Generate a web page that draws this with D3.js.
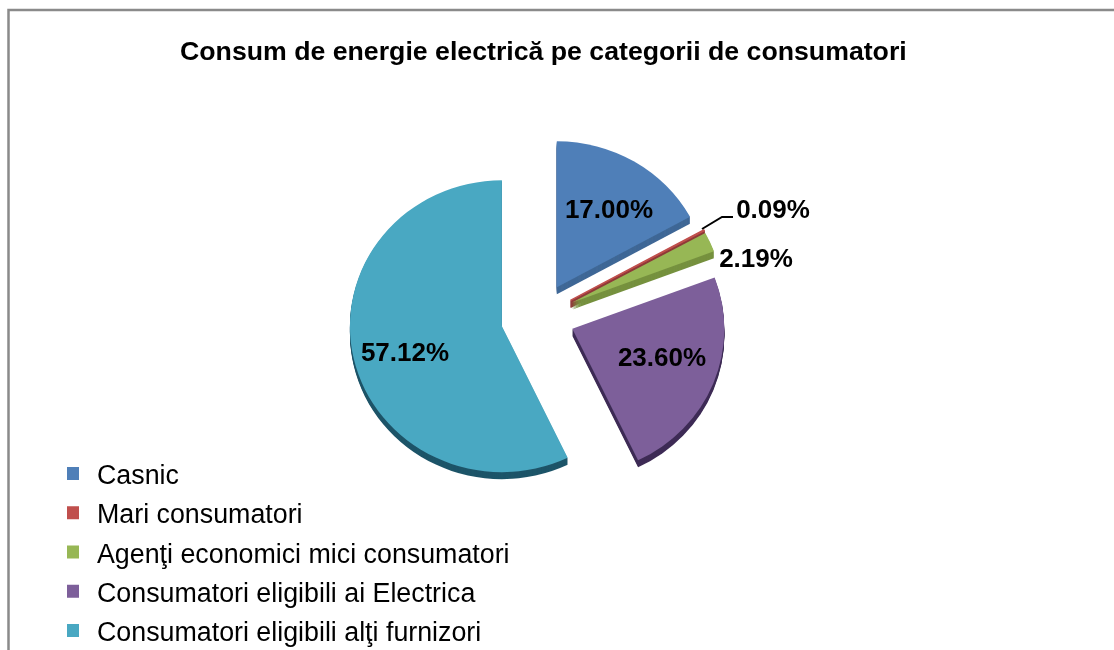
<!DOCTYPE html>
<html>
<head>
<meta charset="utf-8">
<title>Consum de energie electrică</title>
<script src="https://d3js.org/d3.v7.min.js"></script>
<style>
    body { margin: 0; background: #fff; }
    svg { display: block; }
    text { font-family: "Liberation Sans", Arial, sans-serif; fill: #000; }
    .title { font-size: 26.7px; font-weight: bold; }
    .slice-label { font-size: 26px; font-weight: bold; text-anchor: middle; }
    .legend-label { font-size: 26.8px; }
</style>
</head>
<body>
<svg id="chart" width="1114" height="650"></svg>
<script>
// values
const categories = ["Casnic", "Mari consumatori", "Agenţi economici mici consumatori", "Consumatori eligibili ai Electrica", "Consumatori eligibili alţi furnizori"];
const shares = [17.00, 0.09, 2.19, 23.60, 57.12];
const titleText = "Consum de energie electrică pe categorii de consumatori";

const topColors = ["#4f7fb8", "#c0504d", "#97b755", "#7d5f9a", "#4aa8c2"];
const sideColors = ["#3f6796", "#8f3a38", "#76913f", "#3d2c55", "#1f5468"];

const width = 1114, height = 650;
const svg = d3.select("#chart");

// the reference is a soft upscaled screenshot
svg.append("filter")
    .attr("id", "soft")
    .attr("x", 0).attr("y", 0)
    .attr("width", width).attr("height", height)
    .attr("filterUnits", "userSpaceOnUse")
    .append("feGaussianBlur")
    .attr("stdDeviation", 0.45);

const root = svg.append("g").attr("filter", "url(#soft)");

// chart frame, only left and top edges are in the crop
root.append("path")
    .attr("d", "M8.5,650V10H1114")
    .attr("fill", "none")
    .attr("stroke", "#8a8a8a")
    .attr("stroke-width", 2.5);

root.append("text")
    .attr("class", "title")
    .attr("x", 180)
    .attr("y", 60)
    .text(titleText);

// pie, drawn flat and then squashed a little for the tilt
const center = {x: 538, y: 318};
const radius = 152, squash = 0.96, explode = 37, depth = 7;
// small vertical corrections, the 3D perspective is not a clean ellipse
const nudgeY = [1, 0, 0, -3, 0];

const pie = d3.pie().sort(null).value(d => d).startAngle(0).endAngle(2 * Math.PI);
const arcs = pie(shares);
const arc = d3.arc().innerRadius(0).outerRadius(radius);

function sliceCenter(d) {
    let mid = (d.startAngle + d.endAngle) / 2;
    return [center.x + explode * Math.sin(mid), center.y - explode * Math.cos(mid) + nudgeY[d.index]];
}

let slices = root.selectAll("g.slice")
    .data(arcs)
    .join("g")
    .attr("class", "slice")
    .attr("transform", d => {
        let c = sliceCenter(d);
        return `translate(${c[0]},${c[1]})`;
    });

// side wall: stack of dark copies going down
slices.each(function (d, i) {
    let g = d3.select(this);
    for (let k = depth; k > 0; k--) {
        g.append("path")
            .attr("transform", `translate(0,${k}) scale(1,${squash})`)
            .attr("d", arc(d))
            .attr("fill", sideColors[i])
            .attr("stroke", i === 1 ? sideColors[i] : "none")
            .attr("stroke-width", 1.5);
    }
});

slices.append("path")
    .attr("transform", `scale(1,${squash})`)
    .attr("d", d => arc(d))
    .attr("fill", (d, i) => topColors[i])
    .attr("stroke", (d, i) => i === 1 ? topColors[i] : "none")
    .attr("stroke-width", 1.5);

// label spots, in value order
const labelSpots = [[609, 218], [773, 218], [756, 267], [662, 366], [405, 361]];
root.selectAll("text.slice-label")
    .data(shares)
    .join("text")
    .attr("class", "slice-label")
    .attr("x", (d, i) => labelSpots[i][0])
    .attr("y", (d, i) => labelSpots[i][1])
    .text(d => d3.format(".2f")(d) + "%");

// leader line for the thin slice
root.append("path")
    .attr("d", d3.line()([[702, 229], [722, 217], [733, 217]]))
    .attr("fill", "none")
    .attr("stroke", "#000")
    .attr("stroke-width", 2);

// legend
const legendY = d3.scalePoint().domain(categories).range([475, 632]);
let legend = root.selectAll("g.legend")
    .data(categories)
    .join("g")
    .attr("class", "legend")
    .attr("transform", d => `translate(67,${legendY(d)})`);

legend.append("rect")
    .attr("y", -8)
    .attr("width", 12)
    .attr("height", 13)
    .attr("fill", (d, i) => topColors[i]);

legend.append("text")
    .attr("class", "legend-label")
    .attr("x", 30)
    .attr("y", 9)
    .text(d => d);
</script>
</body>
</html>
